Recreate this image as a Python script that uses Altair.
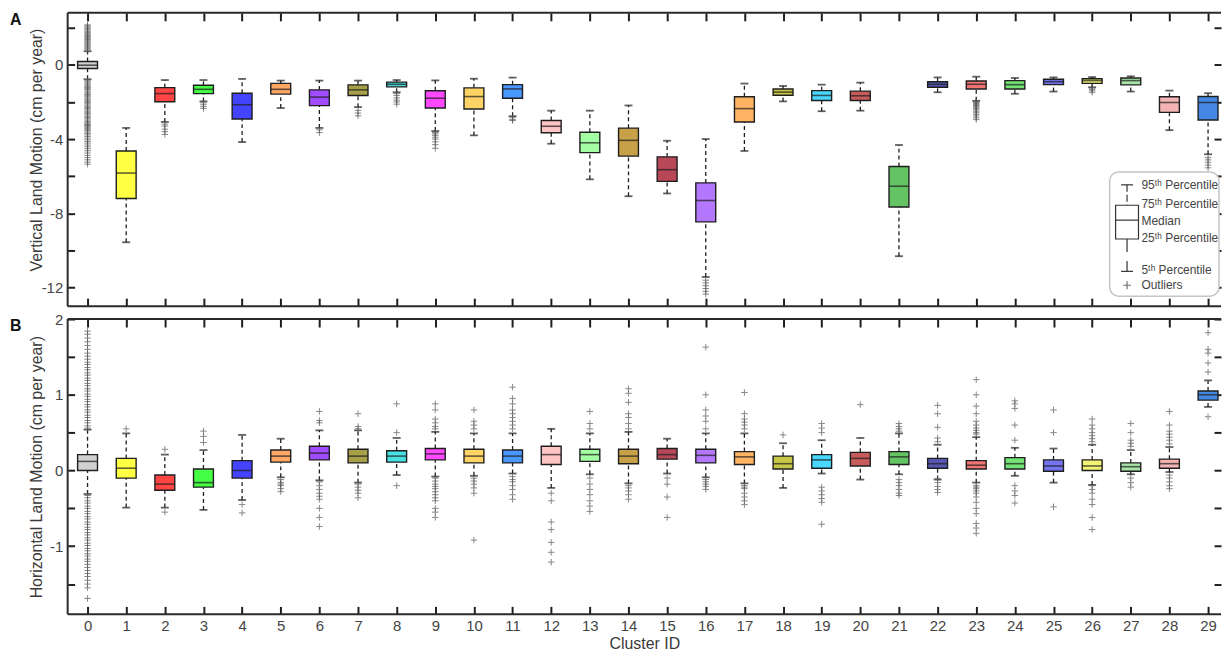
import altair as alt
import pandas as pd

clusters = list(range(30))
colors = ["#d0d0d0", "#ffff44", "#ff4444", "#44ff44", "#4444ff", "#ffa866", "#a24cff", "#a8a048",
          "#48e0e0", "#ff48ff", "#ffd466", "#4898ff", "#ffc4c4", "#a4ffa4", "#c8a048", "#b84858",
          "#b478ff", "#ffb464", "#c8c848", "#48d8ff", "#c85c5c", "#64c464", "#5858b4", "#f07474",
          "#74e474", "#7474f0", "#f4f474", "#a8e4a8", "#f4b4b4", "#4488e4"]

# ---- Panel A: vertical land motion (cm per year) ----
v_p95 = [0.73, -3.4, -0.82, -0.82, -0.76, -0.85, -0.85, -0.85, -0.82, -0.84, -0.75, -0.69, -2.47, -2.47, -2.19,
         -4.09, -4.0, -1.01, -1.14, -1.07, -0.96, -4.32, -0.68, -0.64, -0.71, -0.68, -0.66, -0.62, -1.39, -1.53]
v_q3 = [0.18, -4.64, -1.23, -1.1, -1.53, -1.0, -1.35, -1.08, -0.93, -1.4, -1.24, -1.07, -3.0, -3.63, -3.41,
        -4.96, -6.36, -1.72, -1.3, -1.39, -1.42, -5.48, -0.91, -0.87, -0.85, -0.78, -0.75, -0.71, -1.72, -1.71]
v_med = [-0.02, -5.83, -1.55, -1.32, -2.15, -1.32, -1.74, -1.35, -1.05, -1.8, -1.71, -1.3, -3.31, -4.2, -4.07,
         -5.65, -7.31, -2.36, -1.47, -1.65, -1.67, -6.54, -1.05, -1.05, -1.07, -0.91, -0.85, -0.85, -2.03, -2.03]
v_q1 = [-0.2, -7.2, -1.99, -1.55, -2.92, -1.58, -2.2, -1.65, -1.19, -2.33, -2.38, -1.8, -3.66, -4.73, -4.92,
        -6.28, -8.46, -3.08, -1.64, -1.92, -1.92, -7.66, -1.21, -1.3, -1.3, -1.07, -1.0, -1.08, -2.56, -2.97]
v_p5 = [-0.78, -9.56, -3.08, -1.97, -4.16, -2.33, -3.4, -2.28, -1.48, -3.57, -3.8, -2.77, -4.25, -6.17, -7.08,
        -6.93, -11.43, -4.64, -1.97, -2.5, -2.47, -10.31, -1.48, -1.94, -1.56, -1.44, -1.21, -1.44, -3.52, -4.82]
v_outliers = [
    [0.8, 0.86, 0.91, 0.97, 1.02, 1.08, 1.13, 1.19, 1.24, 1.3, 1.36, 1.41, 1.47, 1.53, 1.58, 1.64, 1.7, 1.75,
     1.81, 1.87, 1.93, 1.98, 2.04, 2.1, 2.15,
     -0.86, -0.92, -0.98, -1.04, -1.1, -1.16, -1.22, -1.28, -1.34, -1.41, -1.47, -1.53, -1.6, -1.66, -1.72,
     -1.79, -1.85, -1.91, -1.98, -2.04, -2.1, -2.17, -2.23, -2.3, -2.36, -2.43, -2.5, -2.56, -2.63, -2.7,
     -2.77, -2.84, -2.91, -2.98, -3.05, -3.12, -3.18, -3.22, -3.26, -3.31, -3.36, -3.42, -3.48, -3.55, -3.62,
     -3.7, -3.78, -3.86, -3.95, -4.04, -4.13, -4.22, -4.32, -4.42, -4.52, -4.63, -4.75, -4.88, -5.0, -5.12,
     -5.24, -5.35],
    [],
    [-3.2, -3.3, -3.47, -3.6, -3.75],
    [-2.05, -2.15, -2.25, -2.35],
    [],
    [],
    [-3.5, -3.65],
    [-2.45, -2.6, -2.75],
    [-1.55, -1.65, -1.78, -1.9, -2.0, -2.12],
    [-3.65, -3.72, -3.8, -3.9, -4.0, -4.15, -4.3, -4.5],
    [],
    [-2.85, -2.95, -3.0],
    [], [], [], [],
    [-11.6, -11.75, -11.9, -12.05, -12.2, -12.35],
    [], [], [], [], [], [],
    [-1.98, -2.03, -2.08, -2.13, -2.18, -2.23, -2.28, -2.35, -2.42, -2.5, -2.58, -2.66, -2.75, -2.85, -2.95],
    [], [],
    [-1.25, -1.32, -1.4, -1.48],
    [], [],
    [-5.0, -5.12, -5.25, -5.4, -5.55],
]

# ---- Panel B: horizontal land motion (cm per year) ----
h_p95 = [0.54, 0.49, 0.21, 0.27, 0.47, 0.42, 0.53, 0.53, 0.43, 0.51, 0.49, 0.49, 0.55, 0.49, 0.51,
         0.42, 0.49, 0.49, 0.36, 0.4, 0.43, 0.49, 0.34, 0.44, 0.3, 0.29, 0.34, 0.27, 0.31, 1.19]
h_q3 = [0.21, 0.16, -0.06, 0.02, 0.13, 0.27, 0.32, 0.28, 0.26, 0.29, 0.28, 0.27, 0.32, 0.28, 0.28,
        0.29, 0.28, 0.25, 0.19, 0.21, 0.24, 0.25, 0.16, 0.13, 0.17, 0.14, 0.14, 0.1, 0.15, 1.05]
h_med = [0.12, 0.03, -0.18, -0.16, 0.0, 0.19, 0.23, 0.19, 0.19, 0.22, 0.19, 0.19, 0.21, 0.21, 0.19,
         0.21, 0.2, 0.18, 0.09, 0.14, 0.16, 0.18, 0.09, 0.07, 0.09, 0.06, 0.06, 0.05, 0.09, 1.0]
h_q1 = [0.0, -0.1, -0.26, -0.22, -0.1, 0.11, 0.14, 0.1, 0.11, 0.14, 0.1, 0.1, 0.08, 0.12, 0.09,
        0.15, 0.1, 0.08, 0.02, 0.03, 0.06, 0.08, 0.03, 0.02, 0.02, -0.01, 0.0, -0.01, 0.03, 0.93]
h_p5 = [-0.31, -0.49, -0.49, -0.52, -0.39, -0.09, -0.13, -0.16, -0.06, -0.08, -0.07, -0.04, -0.23, -0.05, -0.17,
        -0.04, -0.09, -0.17, -0.23, -0.04, -0.12, -0.05, -0.12, -0.16, -0.07, -0.16, -0.19, -0.05, -0.02, 0.84]
h_outliers = [
    [0.56, 0.59, 0.63, 0.66, 0.7, 0.73, 0.77, 0.8, 0.84, 0.87, 0.91, 0.94, 0.98, 1.01, 1.05, 1.08, 1.12, 1.15,
     1.19, 1.22, 1.26, 1.29, 1.33, 1.36, 1.4, 1.43, 1.47, 1.51, 1.55, 1.6, 1.65, 1.7, 1.75, 1.8, 1.84,
     -0.33, -0.36, -0.4, -0.43, -0.47, -0.5, -0.54, -0.57, -0.61, -0.64, -0.68, -0.71, -0.75, -0.78, -0.82,
     -0.85, -0.89, -0.92, -0.96, -0.99, -1.03, -1.06, -1.1, -1.13, -1.17, -1.2, -1.24, -1.28, -1.32, -1.36,
     -1.4, -1.45, -1.5, -1.55, -1.69],
    [0.55],
    [0.28, -0.55],
    [0.37, 0.45, 0.52],
    [-0.45, -0.56],
    [-0.12, -0.16, -0.18, -0.2, -0.24, -0.28],
    [0.63, 0.66, 0.78, -0.15, -0.2, -0.25, -0.3, -0.34, -0.38, -0.5, -0.62, -0.74],
    [0.55, 0.58, 0.75, -0.18, -0.22, -0.26, -0.3, -0.36],
    [0.5, 0.88, -0.2],
    [0.55, 0.58, 0.63, 0.68, 0.8, 0.88, -0.1, -0.14, -0.18, -0.21, -0.24, -0.28, -0.32, -0.36, -0.4, -0.5,
     -0.55, -0.62],
    [0.55, 0.6, 0.65, 0.8, -0.1, -0.14, -0.18, -0.23, -0.3, -0.92],
    [0.55, 0.6, 0.65, 0.7, 0.75, 0.8, 0.88, 0.95, 1.1, -0.08, -0.12, -0.15, -0.2, -0.25, -0.32, -0.38],
    [-0.3, -0.4, -0.68, -0.78, -0.95, -1.08, -1.21],
    [0.55, 0.62, 0.78, -0.1, -0.18, -0.25, -0.32, -0.4, -0.47, -0.54],
    [0.55, 0.62, 0.7, 0.75, 0.9, 1.02, 1.08, -0.2, -0.23, -0.27, -0.32, -0.38],
    [-0.1, -0.18, -0.35, -0.62],
    [0.55, 0.65, 0.72, 0.8, 1.0, 1.63, -0.12, -0.15, -0.18, -0.21, -0.25],
    [0.55, 0.6, 0.64, 0.68, 0.75, 1.03, -0.2, -0.22, -0.24, -0.3, -0.35, -0.4, -0.45],
    [0.47],
    [0.5, 0.56, 0.62, -0.22, -0.27, -0.32, -0.37, -0.42, -0.71],
    [0.87],
    [0.52, 0.55, 0.58, 0.62, -0.12, -0.16, -0.2, -0.25, -0.3, -0.33],
    [0.38, 0.43, 0.57, 0.75, 0.86, -0.11, -0.16, -0.21, -0.25, -0.29],
    [0.48, 0.5, 0.53, 0.56, 0.6, 0.65, 0.75, 0.85, 1.0, 1.2, -0.2, -0.22, -0.24, -0.27, -0.3, -0.35, -0.42,
     -0.5, -0.57, -0.7, -0.76, -0.83],
    [0.4, 0.6, 0.82, 0.88, 0.92, -0.2, -0.27, -0.33, -0.43],
    [0.5, 0.8, -0.48],
    [0.38, 0.42, 0.46, 0.5, 0.55, 0.6, 0.68, -0.2, -0.25, -0.3, -0.38, -0.45, -0.62, -0.78],
    [0.32, 0.36, 0.4, 0.5, 0.62, -0.1, -0.16, -0.22],
    [0.35, 0.4, 0.44, 0.48, 0.52, 0.6, 0.78, -0.06, -0.1, -0.15, -0.2, -0.24],
    [1.3, 1.42, 1.55, 1.6, 1.82, 0.71],
]

v_ticks = [2, 0, -2, -4, -6, -8, -10, -12]
h_ticks = [2, 1.5, 1, 0.5, 0, -0.5, -1, -1.5]

legend_items = ["95ᵗʰ Percentile", "75ᵗʰ Percentile", "Median", "25ᵗʰ Percentile", "5ᵗʰ Percentile", "Outliers"]

W = 1160
X_DOMAIN = [-0.515, 29.335]
PLUS = "M-1,0L1,0M0,-1L0,1"
INK = "#1e1e1e"
one = pd.DataFrame({"k": [0]})


def panel(p5, q1, med, q3, p95, outliers, ydomain, yticks, label_expr, ytitle, letter, height,
          bottom_labels, title_y, legend):
    df = pd.DataFrame({"cluster": clusters, "p5": p5, "q1": q1, "med": med, "q3": q3, "p95": p95})
    odf = pd.DataFrame([(c, v) for c, vals in zip(clusters, outliers) for v in vals],
                       columns=["cluster", "value"])
    xs = alt.Scale(domain=X_DOMAIN, nice=False, zero=False, padding=0)
    ys = alt.Scale(domain=ydomain, nice=False, zero=False, padding=0)
    xtick = dict(domain=False, grid=False, tickSize=8, offset=-8, values=clusters, tickWidth=2,
                 tickColor=INK, minExtent=0)
    ytick = dict(domain=False, grid=False, tickSize=7, offset=-7, values=yticks, tickWidth=2,
                 tickColor=INK, minExtent=0)

    if bottom_labels:
        x_bottom = alt.Axis(orient="bottom", labels=True, title="Cluster ID", labelPadding=4,
                            titlePadding=2, labelFlush=False, labelOverlap=False, **xtick)
    else:
        x_bottom = alt.Axis(orient="bottom", labels=False, title=None, **xtick)
    x_top = alt.Axis(orient="top", labels=False, title=None, **xtick)
    yleft_kw = dict(orient="left", labelExpr=label_expr, labelPadding=5, title=ytitle,
                    titleX=-30, labelOverlap=False, labelFlush=False)
    if title_y is not None:
        yleft_kw["titleY"] = title_y
    y_left = alt.Axis(**yleft_kw, **ytick)
    y_right = alt.Axis(orient="right", labels=False, title=None, **ytick)

    base = alt.Chart(df)
    X = lambda ax: alt.X("cluster:Q", scale=xs, axis=ax)

    low_whisk = base.mark_rule(color=INK, strokeWidth=1.3, strokeDash=[4, 3]).encode(
        x=X(x_bottom), y=alt.Y("p5:Q", scale=ys, axis=y_left), y2="q1:Q")
    up_whisk = base.mark_rule(color=INK, strokeWidth=1.3, strokeDash=[4, 3]).encode(
        x=X(x_top), y=alt.Y("q3:Q", scale=ys, axis=y_right), y2="p95:Q")
    low_cap = base.mark_tick(orient="horizontal", size=8, thickness=1.8, color=INK).encode(
        x=X(None), y=alt.Y("p5:Q", scale=ys, axis=None))
    up_cap = base.mark_tick(orient="horizontal", size=8, thickness=1.8, color=INK).encode(
        x=X(None), y=alt.Y("p95:Q", scale=ys, axis=None))
    box = base.mark_bar(size=20, stroke=INK, strokeWidth=1.4).encode(
        x=X(None), y=alt.Y("q1:Q", scale=ys, axis=None), y2="q3:Q",
        color=alt.Color("cluster:N", scale=alt.Scale(domain=clusters, range=colors), legend=None))
    median = base.mark_tick(orient="horizontal", size=20, thickness=1.6, color=INK).encode(
        x=X(None), y=alt.Y("med:Q", scale=ys, axis=None))
    outl = alt.Chart(odf).mark_point(shape=PLUS, size=42, filled=False, color="#555",
                                     strokeWidth=1, opacity=0.7).encode(
        x=X(None), y=alt.Y("value:Q", scale=ys, axis=None))

    frame_kw = dict(color="#2a2a2a", strokeWidth=2)
    f_left = alt.Chart(one).mark_rule(**frame_kw).encode(x=alt.value(0), y=alt.value(0), y2=alt.value(height))
    f_top = alt.Chart(one).mark_rule(**frame_kw).encode(x=alt.value(0), x2=alt.value(W), y=alt.value(0))
    f_bot = alt.Chart(one).mark_rule(**frame_kw).encode(x=alt.value(0), x2=alt.value(W), y=alt.value(height))
    letter_mark = alt.Chart(one).mark_text(text=letter, font="Liberation Sans", fontWeight="bold", fontSize=16,
                                           align="left", baseline="middle", color="#111").encode(
        x=alt.value(-58), y=alt.value(7.5))

    layers = [low_whisk, up_whisk, low_cap, up_cap, box, median, outl, f_left, f_top, f_bot, letter_mark]

    if legend:
        lx = 1065.5
        leg_rect = alt.Chart(one).mark_rect(fill="white", stroke="#c4c4c4", strokeWidth=1.5, cornerRadius=9).encode(
            x=alt.value(1048), x2=alt.value(1158), y=alt.value(160), y2=alt.value(285))
        lg_kw = dict(color="#333", strokeWidth=1.2)
        leg_ucap = alt.Chart(one).mark_rule(**lg_kw).encode(x=alt.value(lx - 6), x2=alt.value(lx + 6), y=alt.value(173))
        leg_uw = alt.Chart(one).mark_rule(strokeDash=[7, 3], **lg_kw).encode(x=alt.value(lx), y=alt.value(173), y2=alt.value(193.5))
        leg_box = alt.Chart(one).mark_rect(fill="white", stroke="#333", strokeWidth=1.2).encode(
            x=alt.value(1054), x2=alt.value(1077), y=alt.value(193.5), y2=alt.value(227.5))
        leg_med = alt.Chart(one).mark_rule(**lg_kw).encode(x=alt.value(1054), x2=alt.value(1077), y=alt.value(208.5))
        leg_lw = alt.Chart(one).mark_rule(strokeDash=[13, 9], **lg_kw).encode(x=alt.value(lx), y=alt.value(227.5), y2=alt.value(260))
        leg_lcap = alt.Chart(one).mark_rule(**lg_kw).encode(x=alt.value(lx - 6), x2=alt.value(lx + 6), y=alt.value(260))
        leg_plus = alt.Chart(one).mark_point(shape=PLUS, size=64, filled=False, color="#333", strokeWidth=1.2).encode(
            x=alt.value(lx), y=alt.value(274))
        layers += [leg_rect, leg_ucap, leg_uw, leg_box, leg_med, leg_lw, leg_lcap, leg_plus]
        ys_text = [173.5, 192.5, 209.5, 226.5, 259, 274]
        for txt, ty in zip(legend_items, ys_text):
            layers.append(alt.Chart(one).mark_text(text=txt, font="Liberation Sans", fontSize=12, color="#444",
                                                   align="left", baseline="middle").encode(
                x=alt.value(1080), y=alt.value(ty)))

    return alt.layer(*layers).resolve_axis(x="independent", y="independent").properties(width=W, height=height)


top = panel(v_p5, v_q1, v_med, v_q3, v_p95, v_outliers, [-13, 2.8], v_ticks,
            "datum.value % 4 == 0 ? '' + datum.value : ''",
            "Vertical Land Motion (cm per year)", "A", 295, False, 137.5, True)
bottom = panel(h_p5, h_q1, h_med, h_q3, h_p95, h_outliers, [-1.9, 2.0], h_ticks,
               "datum.value % 1 == 0 ? '' + datum.value : ''",
               "Horizontal Land Motion (cm per year)", "B", 297, True, None, False)

chart = alt.vconcat(top, bottom, spacing=5).properties(
    padding={"left": 2, "top": 2, "right": 0, "bottom": 0}
).configure_view(stroke=None).configure_axis(
    labelFont="Liberation Sans", labelFontSize=15, labelColor="#444",
    titleFont="Liberation Sans", titleFontSize=16, titleColor="#3a3a3a", titleFontWeight="normal"
)

chart.save("out.html", embed_options={"renderer": "svg", "actions": False})
